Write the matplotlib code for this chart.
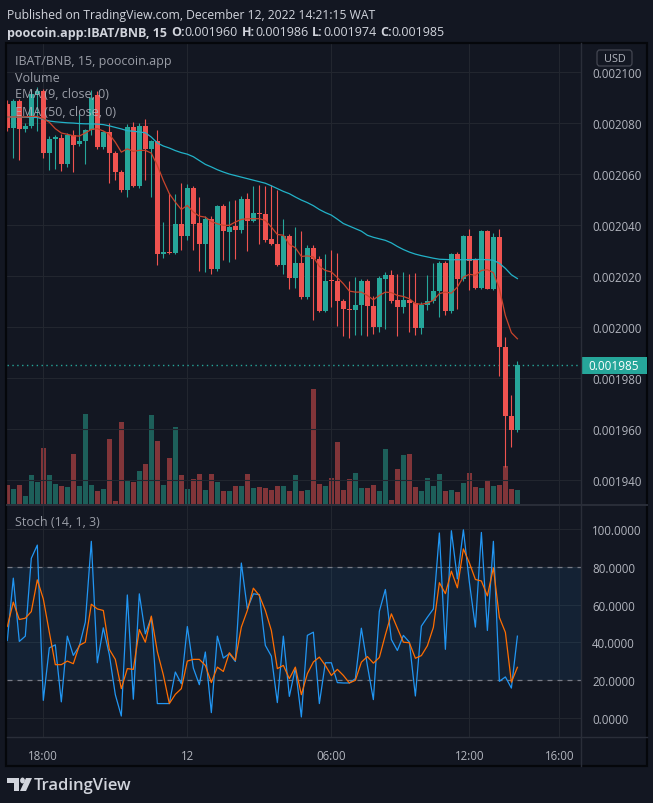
import numpy as np
import matplotlib.pyplot as plt
from matplotlib.patches import Rectangle, FancyBboxPatch, Polygon, Circle

# ---- data (prices in 1e-6 BNB) ----
opens = [2087.6, 2078.2, 2088.6, 2077.5, 2078.7, 2091.5, 2092.5, 2068.2, 2073.7, 2074.2,
         2064.1, 2075.4, 2071.6, 2072.8, 2077.1, 2091.0, 2070.6, 2076.5, 2068.4, 2060.8,
         2053.9, 2078.4, 2055.2, 2079.0, 2069.7, 2072.9, 2028.8, 2029.6, 2029.2, 2040.5,
         2035.6, 2054.6, 2040.9, 2032.4, 2042.5, 2022.9, 2047.6, 2037.2, 2039.5, 2037.9,
         2050.3, 2041.6, 2044.8, 2044.5, 2034.4, 2032.7, 2024.2, 2035.8, 2019.1, 2025.2,
         2011.6, 2031.1, 2026.8, 2006.4, 2018.3, 2018.2, 2010.3, 2007.2, 2006.5, 2008.5,
         2018.2, 2008.4, 1999.9, 2019.0, 2020.5, 2010.7, 2007.7, 2010.7, 2009.4, 1999.5,
         2008.5, 2010.3, 2014.0, 2025.2, 2006.4, 2028.8, 2018.7, 2035.8, 2026.2, 2015.4,
         2037.5, 2015.0, 2035.2, 1992.2, 1965.2, 1959.5]
highs = [2089.0, 2089.5, 2089.5, 2080.0, 2092.8, 2094.0, 2093.5, 2075.0, 2075.5, 2075.8,
         2076.0, 2077.2, 2083.6, 2077.8, 2092.8, 2092.5, 2076.8, 2080.0, 2069.0, 2061.5,
         2079.5, 2080.5, 2080.0, 2081.7, 2073.5, 2077.4, 2041.2, 2052.6, 2052.3, 2056.6,
         2056.0, 2055.2, 2051.0, 2043.7, 2043.5, 2048.0, 2048.3, 2049.4, 2049.7, 2051.4,
         2052.7, 2055.4, 2055.8, 2055.3, 2055.8, 2053.9, 2042.5, 2036.5, 2039.2, 2037.8,
         2032.3, 2032.0, 2027.9, 2028.8, 2030.1, 2029.2, 2011.0, 2018.2, 2019.6, 2019.0,
         2019.0, 2012.3, 2020.0, 2021.4, 2022.5, 2020.9, 2021.6, 2020.7, 2021.3, 2010.0,
         2020.5, 2025.2, 2025.9, 2026.0, 2029.2, 2029.5, 2036.0, 2038.3, 2027.0, 2037.9,
         2037.9, 2036.9, 2038.3, 1996.1, 1973.5, 1986.5]
lows = [2077.0, 2066.4, 2065.6, 2076.5, 2078.0, 2077.0, 2066.4, 2061.7, 2061.9, 2061.2,
        2062.7, 2060.8, 2071.0, 2064.0, 2075.2, 2070.0, 2069.9, 2056.5, 2057.5, 2053.0,
        2051.0, 2055.0, 2054.5, 2057.5, 2051.0, 2024.2, 2027.2, 2028.8, 2028.5, 2030.3,
        2034.0, 2030.1, 2021.8, 2021.4, 2021.0, 2022.0, 2026.2, 2025.4, 2026.5, 2037.0,
        2029.7, 2041.2, 2032.7, 2033.3, 2032.0, 2024.0, 2020.7, 2014.8, 2015.3, 2011.0,
        2011.0, 2002.6, 2005.8, 2006.0, 2007.9, 2000.3, 1996.4, 1995.7, 1997.0, 1997.0,
        1996.5, 1997.4, 1998.0, 1999.4, 2009.4, 1996.5, 2005.5, 1998.0, 1996.9, 1997.1,
        2006.5, 2009.5, 2003.9, 2004.6, 2005.5, 2006.9, 2018.0, 2014.4, 2014.8, 2015.0,
        2014.8, 2014.5, 1980.9, 1945.1, 1953.0, 1959.0]
closes = [2078.2, 2088.6, 2077.5, 2079.0, 2091.5, 2092.5, 2068.2, 2073.9, 2074.5, 2064.1,
          2075.4, 2071.5, 2072.9, 2077.4, 2090.0, 2070.6, 2076.5, 2068.2, 2060.8, 2053.9,
          2078.4, 2055.2, 2079.0, 2069.7, 2072.9, 2028.8, 2029.6, 2029.2, 2040.5, 2035.6,
          2054.6, 2040.5, 2032.4, 2042.5, 2022.9, 2047.6, 2037.5, 2039.2, 2037.9, 2050.3,
          2041.6, 2044.8, 2044.2, 2034.0, 2032.4, 2024.2, 2035.8, 2019.1, 2025.2, 2011.6,
          2031.1, 2026.5, 2006.4, 2018.2, 2017.9, 2010.1, 2006.9, 2006.5, 2008.8, 2018.2,
          2008.1, 1999.9, 2019.4, 2020.5, 2010.3, 2007.7, 2010.7, 2009.4, 1999.5, 2008.8,
          2010.3, 2014.3, 2025.2, 2006.4, 2028.8, 2018.7, 2035.8, 2025.8, 2015.4, 2037.5,
          2015.0, 2035.2, 1992.2, 1965.0, 1959.5, 1985.2]
volumes = [57, 45, 57, 25, 87, 66, 168, 87, 60, 55, 52, 150, 54, 270, 57, 39, 45, 195, 9, 247,
           69, 67, 98, 120, 267, 189, 57, 138, 231, 87, 45, 75, 90, 42, 90, 66, 39, 39, 54, 54,
           90, 48, 51, 48, 42, 54, 54, 39, 87, 39, 42, 345, 60, 54, 78, 186, 42, 75, 93, 48,
           48, 57, 39, 165, 12, 105, 147, 150, 51, 39, 78, 54, 90, 39, 42, 36, 63, 93, 51, 48,
           69, 54, 57, 114, 45, 42]
ema9 = [2082.4, 2082.4, 2082.4, 2082.4, 2082.6, 2082.6, 2081.7, 2080.3, 2077.8, 2076.1,
        2075.6, 2075.0, 2074.9, 2076.1, 2077.5, 2077.8, 2076.9, 2075.6, 2072.5, 2068.6,
        2069.9, 2068.9, 2069.3, 2069.3, 2068.2, 2063.4, 2057.5, 2052.3, 2049.0, 2046.1,
        2047.7, 2045.1, 2043.5, 2043.1, 2041.4, 2040.5, 2039.9, 2039.9, 2041.2, 2042.2,
        2042.5, 2042.5, 2042.5, 2041.8, 2039.2, 2036.3, 2036.0, 2032.4, 2031.1, 2027.7,
        2027.9, 2027.5, 2023.8, 2022.2, 2021.6, 2019.4, 2017.0, 2014.1, 2013.7, 2013.7,
        2012.4, 2010.7, 2012.4, 2013.7, 2013.5, 2012.4, 2012.0, 2011.1, 2009.2, 2008.9,
        2009.4, 2010.5, 2013.1, 2013.7, 2013.3, 2015.7, 2019.6, 2020.7, 2020.3, 2022.2,
        2022.5, 2021.3, 2015.0, 2004.5, 1997.8, 1995.4]
ema50 = [2082.4, 2082.4, 2082.3, 2082.3, 2082.2, 2082.2, 2081.5, 2080.8, 2080.5, 2080.3,
         2080.1, 2080.0, 2079.8, 2079.7, 2079.7, 2079.6, 2079.4, 2078.9, 2078.3, 2077.7,
         2077.0, 2076.8, 2076.5, 2076.2, 2074.5, 2072.2, 2071.0, 2070.2, 2069.2, 2068.4,
         2067.8, 2066.8, 2065.3, 2063.8, 2062.8, 2061.7, 2060.8, 2060.0, 2059.4, 2058.8,
         2058.2, 2057.6, 2057.0, 2056.4, 2055.4, 2054.3, 2053.2, 2052.3, 2051.0, 2049.8,
         2048.8, 2047.6, 2046.1, 2044.9, 2043.9, 2042.3, 2040.6, 2039.6, 2038.6, 2037.6,
         2036.0, 2035.2, 2034.6, 2034.0, 2033.0, 2031.6, 2030.4, 2029.4, 2028.6, 2028.0,
         2027.5, 2027.0, 2026.6, 2026.5, 2026.4, 2026.4, 2026.4, 2026.4, 2026.5, 2026.5,
         2026.4, 2026.2, 2025.0, 2023.0, 2020.5, 2019.0]
stoch_k = [41.0, 74.0, 40.5, 43.3, 84.5, 91.5, 9.3, 37.1, 38.7, 8.5,
           43.3, 33.1, 38.0, 50.7, 93.5, 29.2, 47.7, 33.5, 12.3, 1.0,
           65.1, 9.9, 65.7, 44.5, 53.3, 7.6, 7.6, 7.6, 24.3, 18.1,
           48.4, 26.4, 17.6, 34.9, 2.8, 43.3, 31.7, 34.0, 29.9, 82.0,
           57.7, 65.7, 65.3, 38.4, 32.7, 8.1, 43.3, 11.4, 26.4, 0.5,
           43.7, 45.4, 7.6, 29.2, 29.2, 18.7, 18.5, 18.5, 20.8, 47.5,
           27.8, 9.7, 56.5, 68.0, 41.5, 35.7, 43.7, 40.1, 11.6, 48.6,
           53.3, 57.7, 97.9, 36.3, 99.1, 73.6, 99.6, 71.8, 48.1, 98.2,
           46.3, 93.5, 19.4, 21.7, 15.8, 43.3]
stoch_d = [48.4, 61.3, 52.1, 52.8, 56.3, 73.1, 63.0, 45.4, 28.2, 28.2,
           30.1, 28.7, 38.4, 40.1, 60.2, 57.7, 56.9, 36.3, 31.0, 15.5,
           26.1, 25.7, 46.8, 40.1, 53.9, 35.1, 22.8, 7.6, 12.5, 15.5,
           30.1, 31.0, 31.0, 27.8, 18.7, 26.9, 24.6, 34.5, 30.5, 48.1,
           56.9, 68.7, 64.8, 56.9, 46.3, 26.1, 27.8, 20.8, 26.9, 12.3,
           23.4, 29.6, 32.2, 27.8, 22.5, 25.7, 22.5, 18.5, 19.9, 29.5,
           32.5, 29.0, 32.0, 44.0, 55.1, 47.5, 40.1, 39.8, 31.6, 33.0,
           38.2, 48.0, 71.6, 65.8, 77.7, 68.9, 89.5, 82.1, 73.3, 72.5,
           64.6, 79.5, 53.2, 45.3, 18.9, 26.8]
price_ticks = [1940, 1960, 1980, 2000, 2020, 2040, 2060, 2080, 2100]
stoch_ticks = [0, 20, 40, 60, 80, 100]
time_tick_pos = [6, 30, 54, 77, 92]
time_tick_labels = ["18:00", "12", "06:00", "12:00", "16:00"]
last_price = 1985.2

# ---- styling ----
BG = "#131722"
GRID = "#22262f"
TXT = "#b2b5be"
UP, DOWN = "#26a69a", "#ef5350"
VUP, VDOWN = "#1d5f5a", "#813539"
plt.rcParams["font.family"] = ["Open Sans", "DejaVu Sans"]

W, H = 653, 804
def box(x0, y0, x1, y1):
    return [x0 / W, 1 - y1 / H, (x1 - x0) / W, (y1 - y0) / H]

fig = plt.figure(figsize=(W / 100, H / 100), dpi=100, facecolor=BG)

o = np.array(opens) * 1e-6
h = np.array(highs) * 1e-6
l = np.array(lows) * 1e-6
c = np.array(closes) * 1e-6
x = np.arange(len(o))
up = c >= o
xlim = (-0.05, 95.6)

# volume pane (behind)
axv = fig.add_axes(box(7, 44, 581, 505))
axv.set_facecolor(BG)
axv.bar(x, volumes, width=0.8, color=np.where(up, VUP, VDOWN), linewidth=0)
axv.set_ylim(0, 461 * 3)
axv.set_xlim(*xlim)
axv.axis("off")

# price pane
ax = fig.add_axes(box(7, 44, 581, 505))
ax.patch.set_alpha(0)
ax.set_xlim(*xlim)
ax.set_ylim(1930.6e-6, 2111.4e-6)
for p in price_ticks:
    ax.axhline(p * 1e-6, color=GRID, lw=0.8, zorder=0)
for t in time_tick_pos:
    ax.axvline(t, color=GRID, lw=0.8, zorder=0)
cols = np.where(up, UP, DOWN)
ax.vlines(x, l, h, colors=cols, lw=0.8, zorder=2)
body = np.maximum(np.abs(c - o), 0.35e-6)
ax.bar(x, body, bottom=np.minimum(o, c), width=0.75, color=cols, linewidth=0, zorder=3)
ax.plot(x, np.array(ema50) * 1e-6, color="#22b2c8", lw=0.9, zorder=4)
ax.plot(x, np.array(ema9) * 1e-6, color="#c8442c", lw=0.9, zorder=4)
ax.axhline(last_price * 1e-6, color=UP, lw=1, ls=(0, (1, 2.5)), zorder=1)
ax.set_yticks([p * 1e-6 for p in price_ticks])
ax.set_yticklabels(["%.6f" % (p * 1e-6) for p in price_ticks])
ax.yaxis.tick_right()
ax.tick_params(axis="y", length=0, pad=8, labelsize=8.3, labelcolor=TXT)
ax.set_xticks([])
for s in ax.spines.values():
    s.set_visible(False)

# stochastic pane
ax2 = fig.add_axes(box(7, 507, 581, 738))
ax2.set_facecolor(BG)
ax2.set_xlim(*xlim)
ax2.set_ylim(-10.1, 112.2)
ax2.axhspan(20, 80, color="#2196f3", alpha=0.09, lw=0)
for v in stoch_ticks:
    ax2.axhline(v, color=GRID, lw=0.8, zorder=0)
for t in time_tick_pos:
    ax2.axvline(t, color=GRID, lw=0.8, zorder=0)
for v in (20, 80):
    ax2.axhline(v, color="#787b86", lw=0.9, ls=(0, (4, 4)), zorder=1)
ax2.plot(x, stoch_k, color="#2196f3", lw=0.9, zorder=3)
ax2.plot(x, stoch_d, color="#ff6d00", lw=0.9, zorder=4)
ax2.set_yticks(stoch_ticks)
ax2.set_yticklabels(["%.4f" % v for v in stoch_ticks])
ax2.yaxis.tick_right()
ax2.tick_params(axis="y", length=0, pad=8, labelsize=8.3, labelcolor=TXT)
ax2.set_xticks(time_tick_pos)
ax2.set_xticklabels(time_tick_labels)
ax2.tick_params(axis="x", length=0, pad=9, labelsize=8.3, labelcolor=TXT)
for s in ax2.spines.values():
    s.set_visible(False)

# frame and separators
def fline(x0, y0, x1, y1, color, lw=1):
    fig.add_artist(plt.Line2D([x0 / W, x1 / W], [1 - y0 / H, 1 - y1 / H], color=color, lw=lw))

fig.add_artist(Rectangle((6 / W, 1 - 767 / H), 641 / W, 723 / H, transform=fig.transFigure,
                         fill=False, ec="#05070b", lw=1.6))
fline(581, 44, 581, 767, "#2a2e39")
fline(7, 506, 647, 506, "#2a2e39", 1.4)
fline(7, 738, 647, 738, "#2a2e39")

# last price label and currency box
fig.add_artist(Rectangle((582 / W, 1 - 375 / H), 65 / W, 17 / H, transform=fig.transFigure,
                         color=UP, lw=0))
fig.text(614 / W, 1 - 367 / H, "0.001985", color="white", fontsize=8.5, ha="center", va="center")
fig.add_artist(FancyBboxPatch((597 / W, 1 - 67 / H), 35 / W, 16 / H, transform=fig.transFigure,
                              boxstyle="round,pad=0,rounding_size=0.004", fc=BG, ec="#434651", lw=0.9))
fig.text(614.5 / W, 1 - 59 / H, "USD", color=TXT, fontsize=7.8, ha="center", va="center")

# legend texts
for yy, s in [(61, "IBAT/BNB, 15, poocoin.app"), (78, "Volume"),
              (95, "EMA (9, close, 0)"), (112, "EMA (50, close, 0)"), (523, "Stoch (14, 1, 3)")]:
    fig.text(15 / W, 1 - yy / H, s, color=TXT, fontsize=9, va="center", alpha=0.85, zorder=10)

# header
fig.text(7 / W, 1 - 15 / H, "Published on TradingView.com, December 12, 2022 14:21:15 WAT",
         color="#d1d4dc", fontsize=8.7, va="center")
r = fig.canvas.get_renderer()
xx = 7
for s, wgt in [("poocoin.app:IBAT/BNB, 15", "bold"), ("O:", "bold"), ("0.001960", "normal"),
               ("H:", "bold"), ("0.001986", "normal"), ("L:", "bold"), ("0.001974", "normal"),
               ("C:", "bold"), ("0.001985", "normal")]:
    t = fig.text(xx / W, 1 - 33 / H, s, color="#d1d4dc", fontsize=9.0, weight=wgt, va="center")
    wdt = t.get_window_extent(r).width
    xx += wdt + (0 if s.endswith(":") else 4)

# TradingView logo
lc = "#d1d4dc"
fig.add_artist(Polygon([(7 / W, 1 - 779 / H), (19 / W, 1 - 779 / H), (19 / W, 1 - 792 / H),
                        (14 / W, 1 - 792 / H), (14 / W, 1 - 784 / H), (7 / W, 1 - 784 / H)],
                       closed=True, transform=fig.transFigure, color=lc, lw=0))
fig.add_artist(Circle((22.5 / W, 1 - 781.5 / H), 2.4 / W, transform=fig.transFigure, color=lc, lw=0))
fig.add_artist(Polygon([(26 / W, 1 - 779 / H), (32 / W, 1 - 779 / H), (26 / W, 1 - 792 / H),
                        (20 / W, 1 - 792 / H)], closed=True, transform=fig.transFigure, color=lc, lw=0))
fig.text(34 / W, 1 - 786 / H, "TradingView", color=lc, fontsize=12, va="center", weight="semibold")

fig.savefig("out.png", dpi=100, facecolor=BG)
